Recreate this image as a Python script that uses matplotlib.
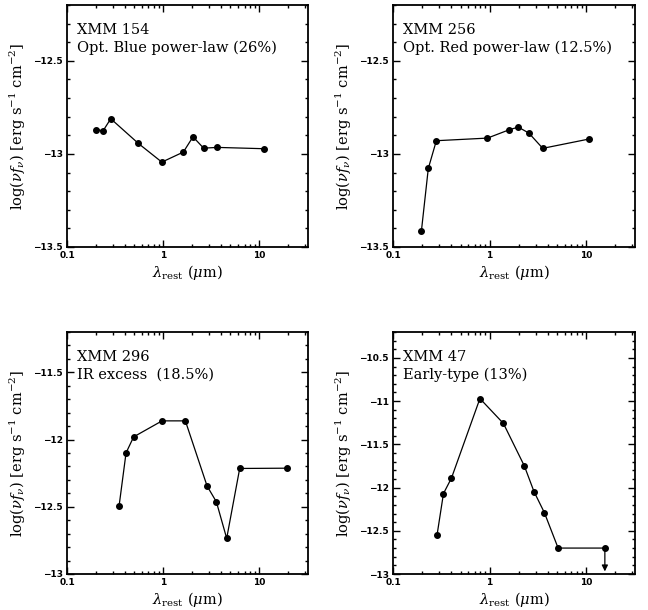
import numpy as np
import matplotlib
matplotlib.use('Agg')
import matplotlib.pyplot as plt
from matplotlib.ticker import FixedLocator, MultipleLocator, FuncFormatter, LogLocator, NullFormatter

# data: rest wavelength (micron), log(nu f_nu)
lam_154 = [0.202, 0.237, 0.285, 0.553, 0.968, 1.62, 2.04, 2.63, 3.65, 11.1]
flux_154 = [-12.869, -12.876, -12.811, -12.944, -13.044, -12.99, -12.908, -12.969, -12.965, -12.972]

lam_256 = [0.197, 0.232, 0.281, 0.95, 1.60, 1.98, 2.55, 3.55, 10.7]
flux_256 = [-13.412, -13.078, -12.929, -12.915, -12.870, -12.856, -12.888, -12.970, -12.920]

lam_296 = [0.348, 0.411, 0.493, 0.973, 1.70, 2.86, 3.57, 4.57, 6.24, 19.2]
flux_296 = [-12.493, -12.099, -11.980, -11.861, -11.861, -12.346, -12.463, -12.735, -12.215, -12.213]

lam_47 = [0.286, 0.333, 0.403, 0.794, 1.39, 2.29, 2.88, 3.69, 5.12, 15.6]
flux_47 = [-12.546, -12.069, -11.89, -10.97, -11.258, -11.75, -12.046, -12.29, -12.70, -12.70]
upper_47 = [False] * 9 + [True]

names = ['XMM 154', 'XMM 256', 'XMM 296', 'XMM 47']
types = ['Opt. Blue power-law (26%)', 'Opt. Red power-law (12.5%)',
         'IR excess  (18.5%)', 'Early-type (13%)']
ylims = [(-13.5, -12.2), (-13.5, -12.2), (-13.0, -11.2), (-13.0, -10.2)]

plt.rcParams['font.family'] = ['DejaVu Serif']
plt.rcParams['mathtext.fontset'] = 'dejavuserif'

fig = plt.figure(figsize=(6.48, 6.10), dpi=100)
W, H = 648., 610.
boxes = [(67, 5, 308, 247), (393, 5, 635, 247), (67, 332, 308, 574), (393, 332, 635, 574)]

data = [(lam_154, flux_154), (lam_256, flux_256), (lam_296, flux_296), (lam_47, flux_47)]

for i, (lam, flux) in enumerate(data):
    x0, y0, x1, y1 = boxes[i]
    ax = fig.add_axes([x0 / W, 1 - y1 / H, (x1 - x0) / W, (y1 - y0) / H])
    ax.plot(lam, flux, '-', color='black', lw=0.9, marker='o', ms=4, mfc='black', mec='black')
    ax.set_xscale('log')
    ax.set_xlim(0.1, 32)
    ax.set_ylim(*ylims[i])
    ax.xaxis.set_major_locator(FixedLocator([0.1, 1, 10]))
    ax.xaxis.set_major_formatter(FuncFormatter(lambda v, p: '%g' % v))
    ax.xaxis.set_minor_locator(LogLocator(base=10, subs=np.arange(2, 10)))
    ax.xaxis.set_minor_formatter(NullFormatter())
    ax.yaxis.set_major_locator(MultipleLocator(0.5))
    ax.yaxis.set_minor_locator(MultipleLocator(0.1))
    ax.yaxis.set_major_formatter(FuncFormatter(lambda v, p: ('%g' % v).replace('-', '\u2212')))
    ax.tick_params(which='both', direction='in', top=True, right=True, labelsize=6.5, width=1)
    ax.tick_params(which='major', length=5, pad=3)
    ax.tick_params(which='minor', length=2.5)
    for s in ax.spines.values():
        s.set_linewidth(1.3)
    for lab in ax.get_xticklabels() + ax.get_yticklabels():
        lab.set_fontweight('bold')
        lab.set_family(['DejaVu Sans'])
    ax.set_xlabel(r'$\lambda_{\rm rest}$ ($\mu$m)', fontsize=10.5, labelpad=2)
    ax.set_ylabel(r'log($\nu f_\nu$) [erg s$^{-1}$ cm$^{-2}$]', fontsize=10.5, labelpad=4)
    ax.text(0.04, 0.897, names[i], transform=ax.transAxes, fontsize=10.5, va='center', ha='left')
    ax.text(0.04, 0.822, types[i], transform=ax.transAxes, fontsize=10.5, va='center', ha='left')

    if i == 3:
        for lx, fy, up in zip(lam, flux, upper_47):
            if up:
                ax.annotate('', xy=(lx, fy - 0.27), xytext=(lx, fy),
                            arrowprops=dict(arrowstyle='-|>', color='black', lw=0.9,
                                            mutation_scale=9, shrinkA=0, shrinkB=0))

fig.savefig('out.png', dpi=100)
